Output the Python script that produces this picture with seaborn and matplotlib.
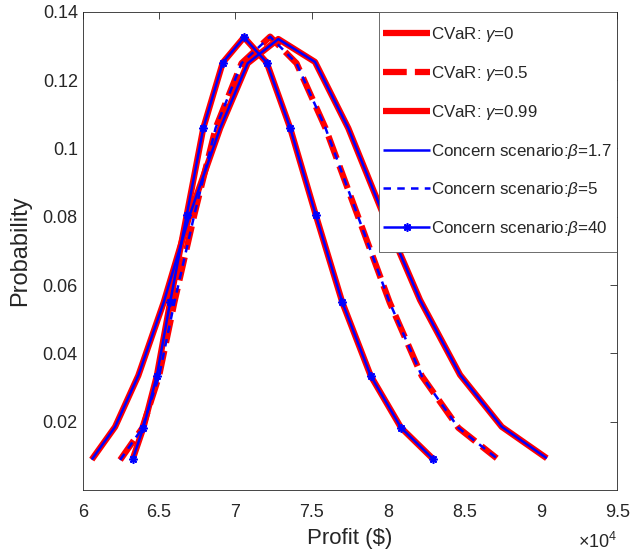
import numpy as np
import pandas as pd
import matplotlib
matplotlib.use('Agg')
import matplotlib.pyplot as plt
import seaborn as sns
from matplotlib.ticker import FuncFormatter
from matplotlib.patches import Rectangle

# profit values ($) and probabilities
profit_wide = [60590, 62120, 63640, 65300, 67000, 69000, 70800, 72810,
               75210, 77390, 79700, 82090, 84710, 87440, 90390]
prob_wide = [0.0089, 0.0185, 0.0335, 0.0549, 0.0804, 0.1059, 0.1249, 0.1320,
             0.1253, 0.1059, 0.0804, 0.0556, 0.0337, 0.0185, 0.0093]

profit_mid = [62450, 63900, 65000, 66000, 67300, 68700, 70400, 72270,
              74000, 75900, 78000, 80100, 82200, 84600, 87110]
prob_mid = [0.0088, 0.0181, 0.0334, 0.0549, 0.0804, 0.1059, 0.1249, 0.1327,
            0.1249, 0.1059, 0.0804, 0.0549, 0.0334, 0.0182, 0.0093]

profit_narrow = [63270, 63970, 64850, 65720, 66810, 67900, 69170, 70560,
                 72050, 73580, 75260, 77000, 78860, 80850, 82960]
prob_narrow = [0.0090, 0.0182, 0.0334, 0.0549, 0.0805, 0.1060, 0.1251, 0.1325,
               0.1251, 0.1060, 0.0805, 0.0549, 0.0334, 0.0182, 0.0090]

labels = ['CVaR: $\\gamma$=0', 'CVaR: $\\gamma$=0.5', 'CVaR: $\\gamma$=0.99',
          'Concern scenario:$\\beta$=1.7', 'Concern scenario:$\\beta$=5',
          'Concern scenario:$\\beta$=40']

x_ticks = [60000, 65000, 70000, 75000, 80000, 85000, 90000, 95000]
y_ticks = [0.02, 0.04, 0.06, 0.08, 0.10, 0.12, 0.14]

sns.set_style('white')
plt.rcParams['font.family'] = ['Liberation Sans', 'DejaVu Sans']
plt.rcParams['mathtext.fontset'] = 'custom'
plt.rcParams['mathtext.it'] = 'Liberation Sans:italic'
plt.rcParams['mathtext.rm'] = 'Liberation Sans'

txt = '#262626'
red_lw = 4.5
blue_lw = 1.8

styles = [
    dict(color='red', lw=red_lw, linestyle='-'),
    dict(color='red', lw=red_lw, linestyle=(0, (3.8, 1.3))),
    dict(color='red', lw=red_lw, linestyle='-'),
    dict(color='blue', lw=blue_lw, linestyle='-'),
    dict(color='blue', lw=blue_lw, linestyle=(0, (3, 2.5))),
    dict(color='blue', lw=blue_lw, linestyle='-', marker=(8, 2, 0), markersize=6,
         markeredgewidth=1.2, markeredgecolor='blue', markerfacecolor='blue'),
]
data = [(profit_wide, prob_wide), (profit_mid, prob_mid), (profit_narrow, prob_narrow)] * 2

fig = plt.figure(figsize=(6.32, 5.54), dpi=100)
ax = fig.add_axes([0.1309, 0.1155, 0.8457, 0.8634])

for (xs, ys), style in zip(data, styles):
    df = pd.DataFrame({'profit': xs, 'prob': ys})
    sns.lineplot(data=df, x='profit', y='prob', ax=ax, sort=False, estimator=None,
                 solid_capstyle='butt', dash_capstyle='butt', **style)

ax.set_xlim(60000, 95000)
ax.set_ylim(0, 0.14)
ax.set_xticks(x_ticks)
ax.set_yticks(y_ticks)
ax.xaxis.set_major_formatter(FuncFormatter(lambda v, p: '%g' % (v / 1e4)))
ax.yaxis.set_major_formatter(FuncFormatter(lambda v, p: '%g' % round(v, 2)))
ax.tick_params(direction='in', length=5, width=0.6, colors=txt, labelsize=13,
               top=True, right=True, labeltop=False, labelright=False)
ax.tick_params(axis='x', pad=10)
for s in ax.spines.values():
    s.set_visible(True)
    s.set_color(txt)
    s.set_linewidth(0.6)

ax.set_xlabel('Profit ($)', fontsize=16, color=txt, labelpad=5)
ax.set_ylabel('Probability', fontsize=17, color=txt, labelpad=8)
ax.text(1.0, -0.088, '$\\times$10$^{4}$', transform=ax.transAxes, ha='right', va='top',
        fontsize=13, color=txt)

# legend box drawn separately so padding matches (taller than wide)
ax.add_patch(Rectangle((0.554, 0.498), 0.446, 0.502, transform=ax.transAxes,
                       facecolor='white', edgecolor='#555555', lw=0.6, zorder=4))
leg = ax.legend(handles=ax.lines[:6], labels=labels, loc='upper left',
                bbox_to_anchor=(0.5615, 0.972), borderaxespad=0, borderpad=0,
                fontsize=12.2, handlelength=2.8, handletextpad=0.05, labelspacing=1.17,
                frameon=False)
leg.set_zorder(5)
for t in leg.get_texts():
    t.set_color(txt)

fig.savefig('out.png', dpi=100)
